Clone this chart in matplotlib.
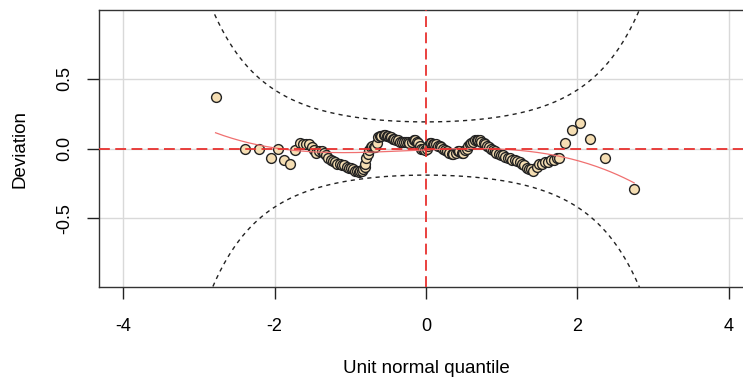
import math
import numpy as np
import matplotlib
matplotlib.use('Agg')
import matplotlib.pyplot as plt

plt.rcParams['font.family'] = ['Liberation Sans', 'DejaVu Sans']

# worm plot points: unit normal quantile vs deviation
quantile = [
    -2.78, -2.39, -2.20, -2.05, -1.96, -1.88, -1.80, -1.73, -1.67, -1.62,
    -1.58, -1.54, -1.51, -1.48, -1.45, -1.41, -1.38, -1.35, -1.32, -1.29,
    -1.26, -1.23, -1.20, -1.17, -1.14, -1.11, -1.08, -1.05, -1.02, -0.99,
    -0.96, -0.94, -0.91, -0.89, -0.87, -0.85, -0.83, -0.81, -0.80, -0.79,
    -0.77, -0.75, -0.73, -0.71, -0.69, -0.67, -0.65, -0.63, -0.61, -0.59,
    -0.56, -0.54, -0.52, -0.50, -0.48, -0.46, -0.44, -0.42, -0.39, -0.37,
    -0.34, -0.32, -0.29, -0.27, -0.24, -0.22, -0.19, -0.16, -0.14, -0.12,
    -0.10, -0.08, -0.06, -0.04, -0.01, 0.01, 0.03, 0.05, 0.07, 0.09,
    0.11, 0.13, 0.16, 0.18, 0.20, 0.23, 0.25, 0.28, 0.31, 0.34,
    0.36, 0.39, 0.42, 0.44, 0.47, 0.49, 0.52, 0.54, 0.56, 0.58,
    0.60, 0.62, 0.65, 0.67, 0.69, 0.71, 0.73, 0.76, 0.78, 0.80,
    0.83, 0.86, 0.88, 0.91, 0.93, 0.96, 0.99, 1.02, 1.05, 1.08,
    1.11, 1.14, 1.17, 1.20, 1.24, 1.27, 1.30, 1.33, 1.36, 1.39,
    1.42, 1.46, 1.49, 1.53, 1.57, 1.61, 1.65, 1.69, 1.73, 1.76,
    1.84, 1.93, 2.04, 2.17, 2.37, 2.75,
]
deviation = [
    0.37, 0.00, 0.00, -0.07, 0.00, -0.08, -0.11, -0.01, 0.04, 0.03,
    0.03, 0.03, 0.01, -0.01, -0.03, -0.02, -0.02, -0.03, -0.05, -0.07,
    -0.08, -0.09, -0.10, -0.11, -0.11, -0.12, -0.12, -0.13, -0.14, -0.14,
    -0.15, -0.16, -0.16, -0.17, -0.16, -0.16, -0.15, -0.13, -0.11, -0.07,
    -0.04, -0.01, 0.01, 0.02, 0.01, 0.01, 0.04, 0.08, 0.09, 0.09,
    0.10, 0.10, 0.09, 0.09, 0.08, 0.08, 0.07, 0.07, 0.06, 0.06,
    0.05, 0.05, 0.05, 0.05, 0.05, 0.04, 0.05, 0.06, 0.06, 0.05,
    0.04, 0.02, 0.00, 0.00, -0.01, 0.00, 0.02, 0.04, 0.04, 0.03,
    0.03, 0.03, 0.02, 0.02, 0.01, 0.00, -0.01, -0.02, -0.03, -0.04,
    -0.04, -0.03, -0.02, -0.02, -0.03, -0.03, -0.01, 0.00, 0.02, 0.03,
    0.04, 0.05, 0.06, 0.06, 0.06, 0.06, 0.05, 0.04, 0.03, 0.02,
    0.01, 0.00, -0.01, -0.02, -0.03, -0.04, -0.05, -0.05, -0.06, -0.07,
    -0.07, -0.08, -0.08, -0.09, -0.10, -0.11, -0.12, -0.14, -0.15, -0.15,
    -0.16, -0.13, -0.11, -0.11, -0.10, -0.10, -0.08, -0.08, -0.07, -0.07,
    0.04, 0.13, 0.18, 0.07, -0.07, -0.29,
]

x_ticks = [-4, -2, 0, 2, 4]
y_ticks = [-0.5, 0.0, 0.5]
grid_x = [-4, -2, 2, 4]
grid_y = [-0.5, 0.0, 0.5]

# sample size used for the 95% confidence band
band_n = 167

x = np.array(quantile)
y = np.array(deviation)

fig = plt.figure(figsize=(7.43, 3.81), dpi=100)
ax = fig.add_axes([99 / 743, 94 / 381, 654 / 743, 277 / 381])
ax.set_xlim(-4.32, 4.32)
ax.set_ylim(-0.99, 0.99)

for gx in grid_x:
    ax.axvline(gx, color='#d9d9d9', lw=1, zorder=0)
for gy in grid_y:
    ax.axhline(gy, color='#d9d9d9', lw=1, zorder=0)

# confidence band
z = np.linspace(-4, 4, 321)
p = np.array([0.5 * (1 + math.erf(v / math.sqrt(2))) for v in z])
dens = np.exp(-z ** 2 / 2) / math.sqrt(2 * math.pi)
se = np.sqrt(p * (1 - p) / band_n) / dens
ax.plot(z, 1.96 * se, color='#222222', lw=1, ls=(0, (3, 3)), zorder=1)
ax.plot(z, -1.96 * se, color='#222222', lw=1, ls=(0, (3, 3)), zorder=1)

ax.scatter(x, y, s=50, facecolor='#f5deb3', edgecolor='#222222', linewidth=1, zorder=3)

# cubic fit through the worm
coef = np.polyfit(x, y, 3)
xf = np.linspace(x.min(), x.max(), 200)
ax.plot(xf, np.polyval(coef, xf), color='#f07070', lw=0.9, zorder=4)

ax.axhline(0, color='#e8312f', lw=1.3, ls=(0, (6, 3)), zorder=5)
ax.axvline(0, color='#e8312f', lw=1.3, ls=(0, (6, 3)), zorder=5)

ax.set_xticks(x_ticks)
ax.set_xticklabels([str(t) for t in x_ticks])
ax.set_yticks(y_ticks)
ax.set_yticklabels(['%.1f' % t for t in y_ticks], rotation=90, va='center')
ax.tick_params(axis='both', direction='out', length=8.5, width=1, labelsize=13, color='#222222')
ax.tick_params(axis='x', pad=14)
ax.tick_params(axis='y', pad=10)
for s in ax.spines.values():
    s.set_color('#333333')
    s.set_linewidth(1)

ax.set_xlabel('Unit normal quantile', fontsize=13.5, labelpad=18)
ax.set_ylabel('Deviation', fontsize=13.5, labelpad=20)

fig.savefig('out.png', dpi=100)
